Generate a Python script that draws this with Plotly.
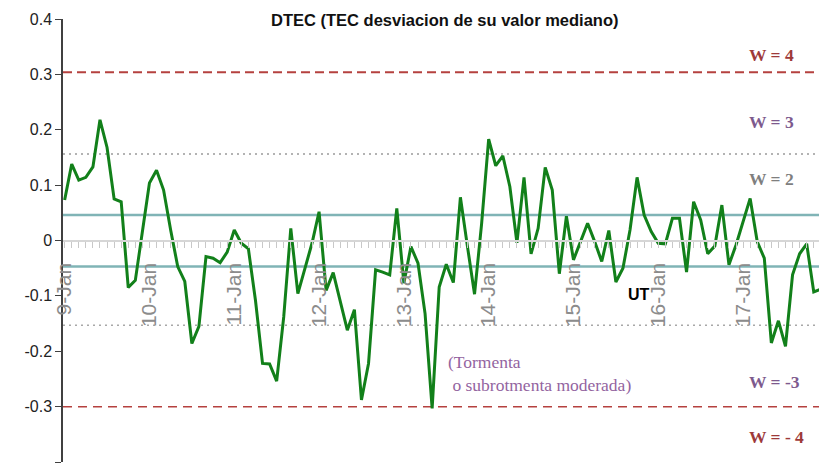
import pandas as pd
import plotly.graph_objects as go

# DTEC series, one value every 2 hours starting 9-Jan 00:00
start = "2015-01-09 00:00"
dtec = [
    0.073, 0.138, 0.109, 0.114, 0.133, 0.218, 0.168, 0.075, 0.070, -0.085, -0.072, 0.019,
    0.104, 0.127, 0.091, 0.019, -0.047, -0.074, -0.186, -0.155, -0.029, -0.032, -0.040, -0.021,
    0.019, -0.005, -0.015, -0.108, -0.222, -0.223, -0.254, -0.138, 0.022, -0.096, -0.050, -0.005,
    0.052, -0.090, -0.058, -0.108, -0.162, -0.125, -0.288, -0.222, -0.053, -0.057, -0.062, 0.058,
    -0.077, -0.011, -0.041, -0.132, -0.303, -0.084, -0.043, -0.076, 0.078, -0.011, -0.097, 0.030,
    0.183, 0.135, 0.153, 0.097, -0.004, 0.114, -0.024, 0.022, 0.132, 0.091, -0.060, 0.044,
    -0.035, -0.002, 0.031, -0.002, -0.038, 0.018, -0.075, -0.050, 0.019, 0.114, 0.046, 0.016,
    -0.005, -0.006, 0.040, 0.040, -0.057, 0.070, 0.037, -0.024, -0.010, 0.064, -0.044, -0.008,
    0.034, 0.076, -0.002, -0.032, -0.185, -0.145, -0.191, -0.062, -0.024, -0.006, -0.093, -0.088,
]
times = pd.date_range(start, periods=len(dtec), freq="2h")

# threshold levels
w4_level = 0.304
w3_level = 0.156
w2_level = 0.046
wm2_level = -0.047
wm3_level = -0.153
wm4_level = -0.300

y_ticks = [-0.4, -0.3, -0.2, -0.1, 0, 0.1, 0.2, 0.3, 0.4]
y_ticktext = ["-0.4", "-0.3", "-0.2", "-0.1", "0", "0.1", "0.2", "0.3", "0.4"]

fig = go.Figure()

# reference lines
def hline(y, color, width, dash):
    fig.add_shape(type="line", xref="paper", x0=0, x1=1, yref="y", y0=y, y1=y,
                  line=dict(color=color, width=width, dash=dash), layer="below")

hline(w4_level, "#b5413f", 2, "9px,5px")
hline(wm4_level, "#b5413f", 1.5, "9px,6px")
hline(w3_level, "#9a9a9a", 1.5, "2px,4px")
hline(wm3_level, "#a8a8a8", 1.5, "2px,4px")
hline(w2_level, "#80b4b6", 2.5, "solid")
hline(wm2_level, "#80b4b6", 2.5, "solid")

fig.add_trace(go.Scatter(x=times, y=dtec, mode="lines",
                         line=dict(color="#12801a", width=3), showlegend=False))

font_sans = "Liberation Sans, Arial, sans-serif"
font_serif = "Liberation Serif, Times New Roman, serif"

# the page body adds an 8px margin, so the figure is a bit smaller than the window
fig.update_layout(
    width=819, height=459,
    margin=dict(l=55, r=5, t=11, b=5),
    paper_bgcolor="white", plot_bgcolor="white",
    font=dict(family=font_sans),
    xaxis=dict(
        range=[pd.Timestamp(start) - pd.Timedelta(minutes=28), times[-1] + pd.Timedelta(minutes=20)],
        anchor="free", position=0.5,
        showline=True, linecolor="#d6d6d6", linewidth=2,
        showgrid=False, zeroline=False,
        tick0=start, dtick=86400000, tickformat="%-d-%b",
        ticks="outside", ticklen=6, tickwidth=1, tickcolor="#c8c8c8",
        minor=dict(dtick=7200000, ticks="outside", ticklen=6, tickwidth=1, tickcolor="#c8c8c8"),
        tickangle=-90, tickfont=dict(size=21, color="#8c8c8c"),
        ticklabelstandoff=7,
        automargin=False,
    ),
    yaxis=dict(
        range=[-0.4, 0.4], tickvals=y_ticks, ticktext=y_ticktext,
        showline=True, linecolor="#404040", linewidth=1.5,
        ticks="outside", ticklen=6, tickcolor="#404040",
        showgrid=False, zeroline=False,
        tickfont=dict(size=16, color="#222222"),
        automargin=False,
    ),
)

def label(x, y, text, color, size, family, bold=True, xanchor="left"):
    t = f"<b>{text}</b>" if bold else text
    fig.add_annotation(xref="paper", yref="y", x=x, y=y, text=t, showarrow=False,
                       xanchor=xanchor, yanchor="middle", align="left",
                       font=dict(family=family, size=size, color=color))

label(0.503, 0.399, "DTEC (TEC desviacion de su valor mediano)", "#111111", 16.5, font_sans, xanchor="center")
label(0.901, 0.335, "W = 4", "#9e3a3a", 17.5, font_serif)
label(0.901, 0.214, "W = 3", "#7d5a8e", 17.5, font_serif)
label(0.901, 0.111, "W = 2", "#7f7f7f", 17.5, font_serif)
label(0.901, -0.255, "W = -3", "#7d5a8e", 17.5, font_serif)
label(0.901, -0.355, "W = - 4", "#9e3a3a", 17.5, font_serif)
label(0.505, -0.241, "(Tormenta<br>&nbsp;o subrotmenta moderada)", "#93649f", 17.5, font_serif, bold=False)
label(0.759, -0.097, "UT", "#000000", 16, font_sans, xanchor="center")

fig.write_html("out.html")
